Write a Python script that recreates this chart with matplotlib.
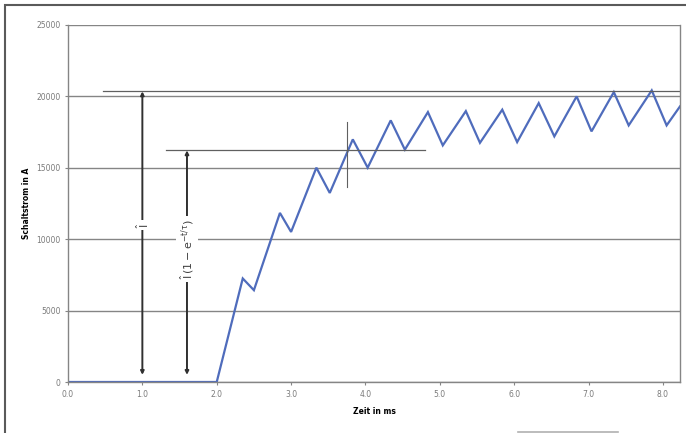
import matplotlib.pyplot as plt
from matplotlib.lines import Line2D
from matplotlib.patches import Rectangle

# current curve (t in ms, I in A)
t_ms = [0.0, 2.0, 2.35, 2.50, 2.85, 3.00, 3.34, 3.52, 3.83, 4.03, 4.34, 4.53,
        4.84, 5.04, 5.35, 5.54, 5.84, 6.04, 6.33, 6.54, 6.84, 7.04, 7.34, 7.54,
        7.85, 8.05, 8.23]
i_a = [0, 0, 7250, 6430, 11840, 10510, 15010, 13240, 16990, 15010, 18320, 16270,
       18900, 16570, 18970, 16750, 19070, 16800, 19530, 17200, 20000, 17550, 20300, 17970,
       20420, 17970, 19300]

x_ticks = [0, 1, 2, 3, 4, 5, 6, 7, 8]
y_ticks = [0, 5000, 10000, 15000, 20000, 25000]

i_peak = 20350      # level of the I marker
i_exp = 16220       # level of the I(1-e^..) marker
x_arrow1 = 1.0
x_arrow2 = 1.6

fig = plt.figure(figsize=(6.86, 4.33), dpi=100)
ax = fig.add_axes([68 / 686, 1 - 382 / 433, 612 / 686, 357 / 433])

grey = '#858585'
ax.set_ylim(0, 25000)
ax.set_xlim(0, 8.23)
ax.set_yticks(y_ticks)
ax.set_xticks(x_ticks)
ax.set_xticklabels([f'{v:.1f}' for v in x_ticks])
ax.grid(axis='y', color=grey, linewidth=1.0)
ax.tick_params(labelsize=5.5, labelcolor='#7a7a7a', color=grey, length=2, width=0.8)
for s in ['left', 'bottom', 'right']:
    ax.spines[s].set_color(grey)
    ax.spines[s].set_linewidth(1.0)
ax.spines['top'].set_visible(False)
ax.set_axisbelow(True)

ax.plot(t_ms, i_a, color='#4f6cbc', linewidth=1.6, solid_joinstyle='miter')

# annotation lines
ax.plot([0.47, 8.23], [i_peak, i_peak], color='#606060', linewidth=0.9)
ax.plot([1.32, 4.8], [i_exp, i_exp], color='#606060', linewidth=0.9)
ax.plot([3.75, 3.75], [13660, 18200], color='#606060', linewidth=0.8)

arrow = dict(arrowstyle='<|-|>', color='#303030', lw=1.4, mutation_scale=5,
             shrinkA=0, shrinkB=0)
ax.annotate('', xy=(x_arrow1, i_peak), xytext=(x_arrow1, 500), arrowprops=arrow)
ax.annotate('', xy=(x_arrow2, i_exp), xytext=(x_arrow2, 500), arrowprops=arrow)

ax.text(x_arrow1, 11000, r'$\hat{\mathrm{I}}$', rotation=90, ha='center', va='center',
        fontsize=8, color='#404040', bbox=dict(fc='white', ec='none', pad=1.5))
ax.text(x_arrow2, 9300, r'$\hat{\mathrm{I}}\,\mathrm{(1 - e^{-t/\tau})}$', rotation=90,
        ha='center', va='center', fontsize=8, color='#404040',
        bbox=dict(fc='white', ec='none', pad=2))

ax.set_xlabel('Zeit in ms', fontsize=5.5, fontweight='bold', labelpad=6)
ax.set_ylabel('Schaltstrom in A', fontsize=5.5, fontweight='bold', labelpad=4)

# outer chart frame and the stray line at the bottom
fig.patches.append(Rectangle((5 / 686, -0.1), 1.0, 1 - 5 / 433 + 0.1,
                             transform=fig.transFigure, fill=False,
                             edgecolor='#5a5a5a', linewidth=1.5))
fig.lines.append(Line2D([518 / 686, 618 / 686], [1.5 / 433, 1.5 / 433],
                        transform=fig.transFigure, color='#b0b0b0', linewidth=1.2))

fig.savefig('out.png', dpi=100)
